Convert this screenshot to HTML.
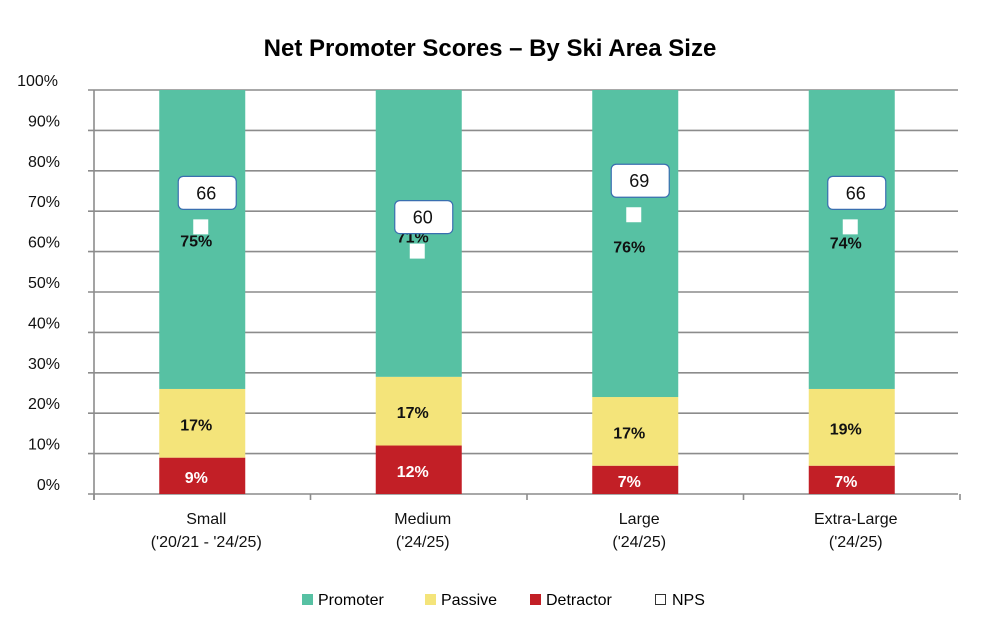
<!DOCTYPE html>
<html><head><meta charset="utf-8"><style>
body{margin:0;background:#fff;font-family:"Liberation Sans",Arial,sans-serif}
svg text{font-family:"Liberation Sans",Arial,sans-serif}
</style></head><body>
<svg id="c" width="1000" height="633" viewBox="0 0 1000 633">
<text x="490" y="56" text-anchor="middle" font-size="24" font-weight="bold" fill="#000">Net Promoter Scores – By Ski Area Size</text>
<g id="grid"></g><g id="bars"></g><g id="labels"></g>
<g font-size="16">
<g><rect x="302" y="594" width="11" height="11" fill="#57c1a3"/><text x="318" y="605">Promoter</text></g>
<g><rect x="425" y="594" width="11" height="11" fill="#f4e47a"/><text x="441" y="605">Passive</text></g>
<g><rect x="530" y="594" width="11" height="11" fill="#c21f26"/><text x="546" y="605">Detractor</text></g>
<g><rect x="655.5" y="594.5" width="10" height="10" fill="#fff" stroke="#333"/><text x="672" y="605">NPS</text></g>
</g>
</svg>
<script>
const categories=["Small","Medium","Large","Extra-Large"];
const subLabels=["('20/21  -  '24/25)","('24/25)","('24/25)","('24/25)"];
const detractor=[9,12,7,7];
const passive=[17,17,17,19];
const promoter=[75,71,76,74];
const nps=[66,60,69,66];
const yTicks=[0,10,20,30,40,50,60,70,80,90,100];
const NS="http://www.w3.org/2000/svg";
const L=94,R=960,T=90,B=494;
const y=v=>B-(v/100)*(B-T);
const bw=(R-L)/categories.length;
const xc=i=>L+bw*(i+0.5);
function mk(tag,attrs,parent){const e=document.createElementNS(NS,tag);for(const k in attrs)e.setAttribute(k,attrs[k]);parent.appendChild(e);return e;}
const grid=document.getElementById('grid'),bars=document.getElementById('bars'),labels=document.getElementById('labels');
yTicks.forEach(t=>{
 const l=mk('line',{x1:88,x2:R-2,y1:y(t),y2:y(t),stroke:'#8c8c8c','stroke-width':1.6},grid);
 
 
 const tx=mk('text',{x:t===100?58:60,y:y(t)-4,'text-anchor':'end','font-size':16,fill:'#111'},grid);
 tx.textContent=t+'%';
 
 
});
const ax=mk('line',{x1:L,x2:L,y1:T,y2:B+6,stroke:'#8c8c8c','stroke-width':1.6},grid);


for(let i=0;i<=categories.length;i++){
 const tk=mk('line',{x1:L+bw*i,x2:L+bw*i,y1:B,y2:B+6,stroke:'#8c8c8c','stroke-width':1.6},grid);
 
 
}
const BW=86;
categories.forEach((c,i)=>{
 const x0=xc(i)-BW/2;
 const segs=[[0,detractor[i],'#c21f26','detractor','#fff'],[detractor[i],detractor[i]+passive[i],'#f4e47a','passive','#111'],[detractor[i]+passive[i],Math.min(100,detractor[i]+passive[i]+promoter[i]),'#57c1a3','promoter','#111']];
 const vals=[detractor[i],passive[i],promoter[i]];
 segs.forEach((s,j)=>{
  const r=mk('rect',{x:x0,y:y(s[1]),width:BW,height:y(s[0])-y(s[1]),fill:s[2]},bars);
  
  
  const ty=j==2?y(s[0]+vals[j]*0.5)+9:(y(s[0])+y(s[1]))/2+7;
  const t=mk('text',{x:xc(i)-6,y:ty,'text-anchor':'middle','font-size':16,'font-weight':'bold',fill:s[4]},labels);
  t.textContent=vals[j]+'%';
  
  
 });
 const sq=mk('rect',{x:xc(i)-1-8,y:y(nps[i])-8,width:15,height:15,fill:'#fff'},labels);
 
 
 const bx=mk('rect',{x:xc(i)-24,y:y(nps[i])-51,width:58,height:33,rx:5,fill:'#fff',stroke:'#3a6fb0','stroke-width':1.2},labels);
 
 
 const nt=mk('text',{x:xc(i)+4,y:y(nps[i])-28,'text-anchor':'middle','font-size':18,fill:'#111'},labels);
 nt.textContent=nps[i];
 
 
 const cl=mk('text',{x:xc(i)+4,y:524,'text-anchor':'middle','font-size':16,fill:'#111'},labels);
 cl.textContent=c;
 
 
 const sl=mk('text',{x:xc(i)+4,y:547,'text-anchor':'middle','font-size':16,fill:'#111','xml:space':'preserve'},labels);
 sl.textContent=subLabels[i];
 
 
});
</script>
</body></html>
